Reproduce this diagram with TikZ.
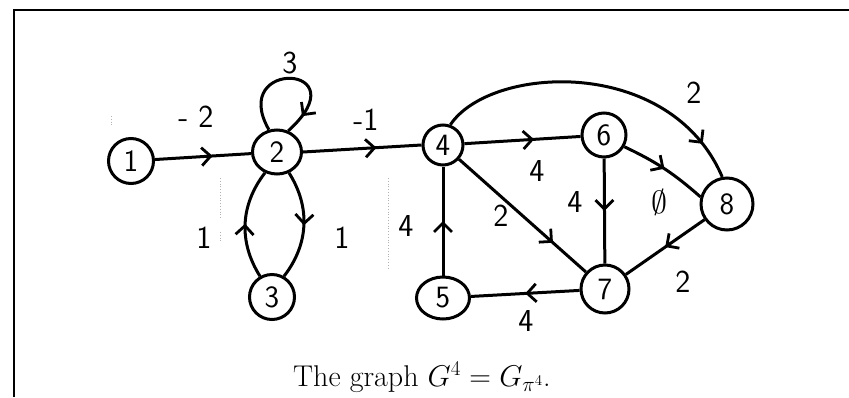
\documentclass[tikz,border=0pt]{standalone}
\usepackage{fix-cm}
\usepackage{fontspec}
\usepackage{amssymb}
\usetikzlibrary{arrows.meta,decorations.markings,shapes.geometric}
\begin{document}
\begin{tikzpicture}[x=1pt,y=-1pt,
  vtx/.style={draw,circle,line width=3pt,minimum size=45pt,inner sep=0pt,font=\fontsize{31}{33}\selectfont\sffamily},
  edg/.style={line width=3pt},
  midarr/.style={postaction={decorate,decoration={markings,mark=at position #1 with {\arrow{Straight Barb[length=9pt,width=18pt,line width=2.8pt]}}}}},
  lbl/.style={font=\fontsize{32}{34}\selectfont\sffamily},
  scan/.style={gray!60,line width=0.8pt,dotted}]
\useasboundingbox (0,0) rectangle (849,397);
\begin{scope}
\clip (0,0) rectangle (849,397);
% frame
\draw[line width=2pt] (14,397) -- (14,10) -- (849,10);
% scan marks
\draw[scan] (111,116) -- (111,127);
\draw[scan] (220,178) -- (220,218);
\draw[scan] (220,232) -- (220,243);
\draw[scan] (388,178) -- (388,270);
% nodes
\node[vtx] (n1) at (131,161) {1};
\node[vtx,shape=ellipse,minimum width=49pt,minimum height=44pt] (n2) at (277,152) {2};
\node[vtx] (n3) at (272,297) {3};
\node[vtx,minimum size=40pt] (n4) at (443,145) {4};
\node[vtx,shape=ellipse,minimum width=53pt,minimum height=42pt] (n5) at (443,298) {5};
\node[vtx,minimum size=44pt] (n6) at (604,135) {6};
\node[vtx,minimum size=48pt] (n7) at (605,289) {7};
\node[vtx,minimum size=52pt] (n8) at (727,204) {8};
% edges
\draw[edg,midarr=0.6] (n1) -- (n2);
\draw[edg,midarr=0.86] (n2.110) .. controls (228,58) and (362,64) .. (n2.62);
\draw[edg,midarr=0.62] (n2.east) -- (n4.west);
\draw[edg,midarr=0.5] (n2.-60) to[bend left=35] (n3.60);
\draw[edg,midarr=0.5] (n3.120) to[bend left=35] (n2.-120);
\draw[edg,midarr=0.6] (n4) -- (n6);
\draw[edg,midarr=0.74] (n4) -- (n7);
\draw[edg,midarr=0.88] (n4.70) .. controls (490,65) and (670,55) .. (n8.100);
\draw[edg,midarr=0.5] (n6.-30) to[bend left=8] (n8.165);
\draw[edg,midarr=0.5] (n6) -- (n7);
\draw[edg,midarr=0.5] (n8) -- (n7);
\draw[edg,midarr=0.5] (n7) -- (n5);
\draw[edg,midarr=0.5] (n5) -- (n4);
% labels
\node[lbl] (l12) at (196,117) {- 2};
\node[lbl] (l22) at (290,63) {3};
\node[lbl] (l24) at (366,120) {-1};
\node[lbl] (l32) at (204,238) {1};
\node[lbl] (l23) at (342,238) {1};
\node[lbl] (l54) at (406,226) {4};
\node[lbl] (l46) at (537,171) {4};
\node[lbl] (l47) at (501,216) {2};
\node[lbl] (l67) at (575,202) {4};
\node[lbl] (l68) at (659,202) {$\emptyset$};
\node[lbl] (l48) at (694,93) {2};
\node[lbl] (l87) at (683,282) {2};
\node[lbl] (l75) at (526,321) {4};
% caption
\node[anchor=base west,inner sep=0pt,font=\fontsize{30}{32}\selectfont] (cap) at (293,386) {The graph $G^4 = G_{\pi^4}$.};
\end{scope}
\end{tikzpicture}
\end{document}
